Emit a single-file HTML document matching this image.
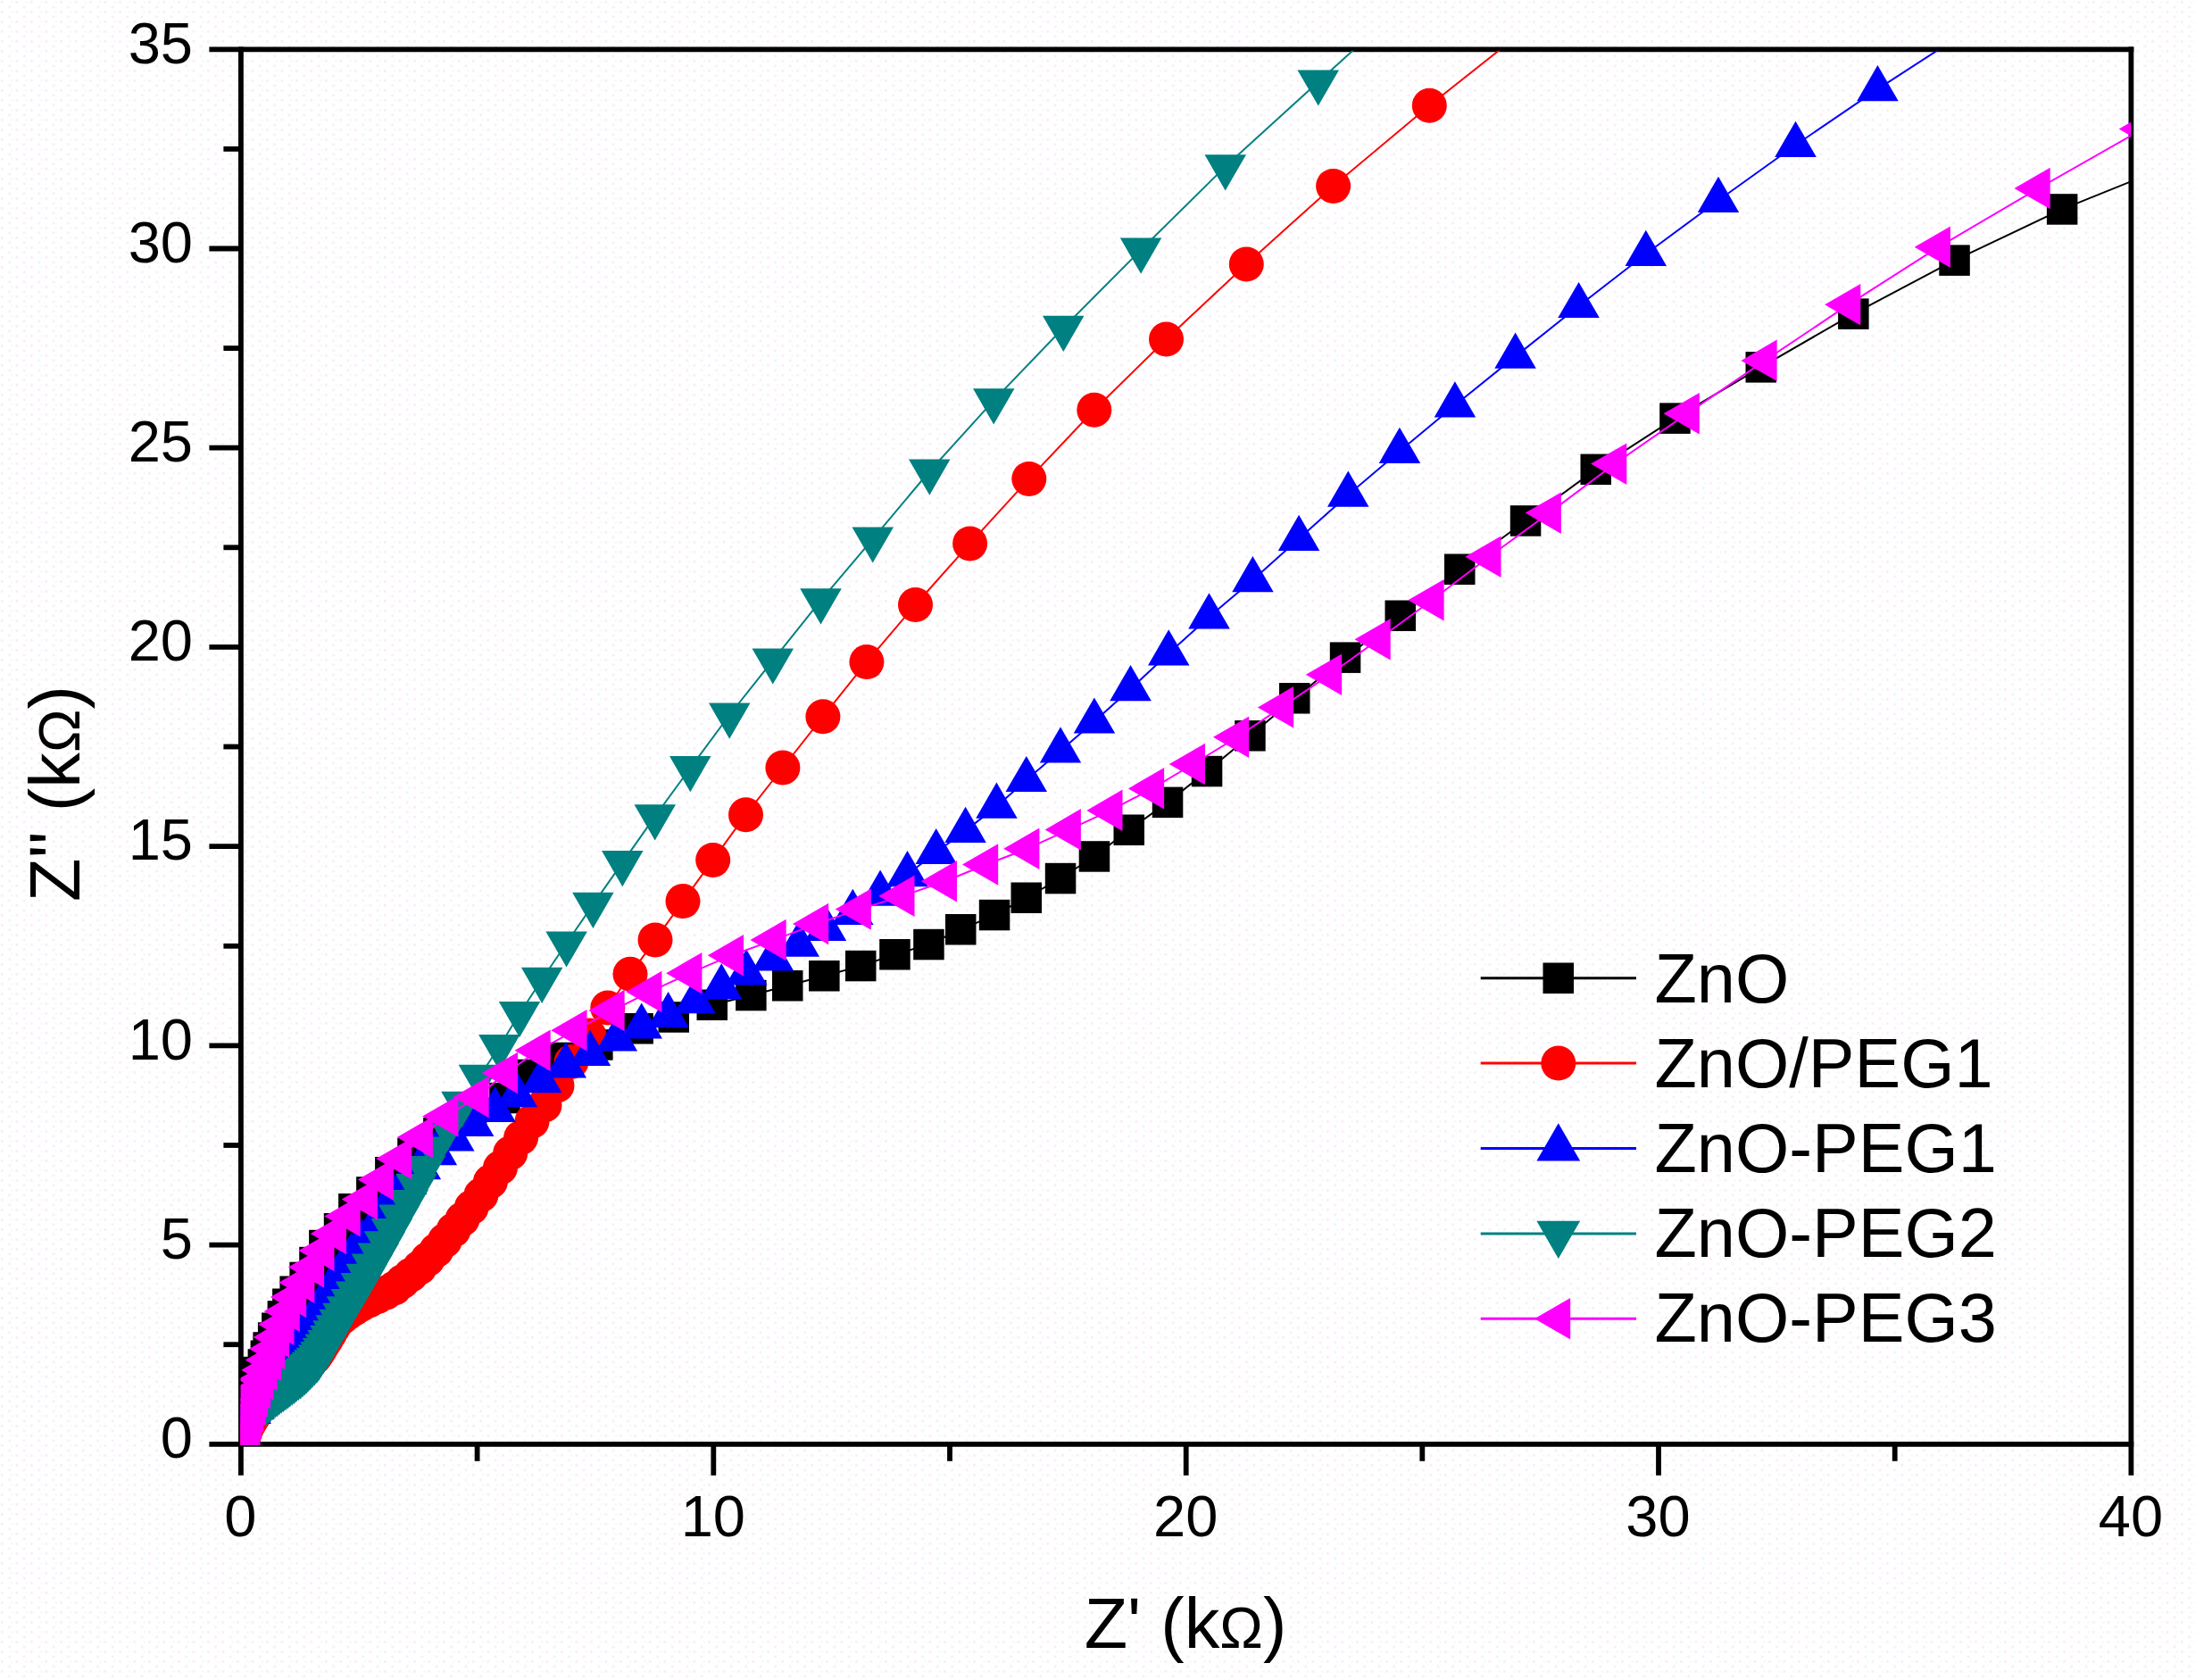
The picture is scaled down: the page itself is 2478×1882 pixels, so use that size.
<!DOCTYPE html>
<html lang="en">
<head>
<meta charset="utf-8">
<title>Nyquist plot</title>
<style>
html,body{margin:0;padding:0;background:#fff;}
body{width:2478px;height:1882px;overflow:hidden;}
svg{display:block;}
text{font-family:"Liberation Sans",sans-serif;fill:#000;}
.tk{font-size:65px;}
.ttl{font-size:79.3px;}
.lg{font-size:77.5px;}
.om{font-size:65px;}
</style>
</head>
<body>
<svg width="2478" height="1882" viewBox="0 0 2478 1882">
<defs><pattern id="dith" width="16.5" height="11" patternUnits="userSpaceOnUse">
<rect x="1" y="1" width="2.75" height="2.75" fill="#faedf8"/><rect x="9.25" y="6.5" width="2.75" height="2.75" fill="#faedf8"/>
<rect x="12" y="1" width="2.75" height="2.75" fill="#f5fbfb"/></pattern></defs>
<rect width="2478" height="1882" fill="#ffffff"/>
<rect width="2460" height="1882" fill="url(#dith)"/>
<defs><clipPath id="plotclip"><rect x="269.5" y="56.8" width="2117.8" height="1562.2"/></clipPath></defs>

<g stroke="#000" stroke-width="5.8" fill="none" stroke-linecap="butt">
<line x1="234.4" y1="55.3" x2="2390.3" y2="55.3"/>
<line x1="234.4" y1="1617.8" x2="2390.3" y2="1617.8"/>
<line x1="269.9" y1="52.4" x2="269.9" y2="1652.8"/>
<line x1="2387.4" y1="52.4" x2="2387.4" y2="1652.8"/>
<line x1="250.4" y1="1506.2" x2="269.9" y2="1506.2"/>
<line x1="234.4" y1="1394.6" x2="269.9" y2="1394.6"/>
<line x1="250.4" y1="1283.0" x2="269.9" y2="1283.0"/>
<line x1="234.4" y1="1171.4" x2="269.9" y2="1171.4"/>
<line x1="250.4" y1="1059.8" x2="269.9" y2="1059.8"/>
<line x1="234.4" y1="948.2" x2="269.9" y2="948.2"/>
<line x1="250.4" y1="836.5" x2="269.9" y2="836.5"/>
<line x1="234.4" y1="724.9" x2="269.9" y2="724.9"/>
<line x1="250.4" y1="613.3" x2="269.9" y2="613.3"/>
<line x1="234.4" y1="501.7" x2="269.9" y2="501.7"/>
<line x1="250.4" y1="390.1" x2="269.9" y2="390.1"/>
<line x1="234.4" y1="278.5" x2="269.9" y2="278.5"/>
<line x1="250.4" y1="166.9" x2="269.9" y2="166.9"/>
<line x1="534.6" y1="1617.8" x2="534.6" y2="1636.8"/>
<line x1="799.3" y1="1617.8" x2="799.3" y2="1652.8"/>
<line x1="1064.0" y1="1617.8" x2="1064.0" y2="1636.8"/>
<line x1="1328.7" y1="1617.8" x2="1328.7" y2="1652.8"/>
<line x1="1593.3" y1="1617.8" x2="1593.3" y2="1636.8"/>
<line x1="1858.0" y1="1617.8" x2="1858.0" y2="1652.8"/>
<line x1="2122.7" y1="1617.8" x2="2122.7" y2="1636.8"/>
</g>
<g clip-path="url(#plotclip)">
<g fill="#000000" stroke="none">
<path d="M2440.0,182.0 L2310.2,234.4 L2189.6,291.7 L2076.3,351.6 L1972.7,411.3 L1876.4,468.6 L1787.7,525.9 L1709.0,583.5 L1635.3,637.8 L1568.7,689.8 L1507.0,736.6 L1450.3,782.3 L1400.5,824.3 L1352.1,864.0 L1308.0,898.9 L1264.7,929.7 L1225.9,959.5 L1188.0,984.0 L1149.8,1005.7 L1114.1,1025.1 L1076.2,1041.3 L1040.4,1058.0 L1002.5,1069.3 L964.3,1082.1 L923.4,1093.2 L882.2,1104.2 L841.4,1115.0 L797.8,1125.7 L754.8,1139.4 L714.6,1152.3 L669.4,1170.4 L633.3,1184.9 L597.1,1203.9 L565.5,1230.1 L528.0,1250.0 L491.4,1269.3 L462.5,1292.0 L437.3,1313.3 L416.3,1335.5 L396.3,1354.3 L380.0,1376.2 L363.4,1395.1 L352.5,1414.0 L341.6,1430.9 L330.6,1446.8 L322.3,1460.7 L316.8,1474.5 L310.3,1487.8 L306.2,1498.6 L300.6,1509.5 L297.9,1518.8 L294.9,1528.4 L288.5,1537.0 L285.0,1546.0 L282.0,1555.0 L280.0,1564.0 L278.0,1573.0 L276.5,1582.0 L275.5,1590.0 L274.5,1598.0 L274.0,1605.0 L273.5,1611.0" fill="none" stroke="#000000" stroke-width="2.0" stroke-linejoin="round"/>
<rect x="2422.8" y="164.8" width="34.5" height="34.5"/>
<rect x="2292.9" y="217.2" width="34.5" height="34.5"/>
<rect x="2172.3" y="274.4" width="34.5" height="34.5"/>
<rect x="2059.1" y="334.4" width="34.5" height="34.5"/>
<rect x="1955.5" y="394.1" width="34.5" height="34.5"/>
<rect x="1859.2" y="451.4" width="34.5" height="34.5"/>
<rect x="1770.5" y="508.6" width="34.5" height="34.5"/>
<rect x="1691.8" y="566.2" width="34.5" height="34.5"/>
<rect x="1618.0" y="620.5" width="34.5" height="34.5"/>
<rect x="1551.5" y="672.5" width="34.5" height="34.5"/>
<rect x="1489.8" y="719.4" width="34.5" height="34.5"/>
<rect x="1433.0" y="765.0" width="34.5" height="34.5"/>
<rect x="1383.2" y="807.0" width="34.5" height="34.5"/>
<rect x="1334.8" y="846.8" width="34.5" height="34.5"/>
<rect x="1290.8" y="881.6" width="34.5" height="34.5"/>
<rect x="1247.5" y="912.5" width="34.5" height="34.5"/>
<rect x="1208.7" y="942.2" width="34.5" height="34.5"/>
<rect x="1170.8" y="966.8" width="34.5" height="34.5"/>
<rect x="1132.5" y="988.5" width="34.5" height="34.5"/>
<rect x="1096.8" y="1007.8" width="34.5" height="34.5"/>
<rect x="1059.0" y="1024.0" width="34.5" height="34.5"/>
<rect x="1023.2" y="1040.8" width="34.5" height="34.5"/>
<rect x="985.2" y="1052.0" width="34.5" height="34.5"/>
<rect x="947.0" y="1064.8" width="34.5" height="34.5"/>
<rect x="906.1" y="1076.0" width="34.5" height="34.5"/>
<rect x="865.0" y="1087.0" width="34.5" height="34.5"/>
<rect x="824.1" y="1097.8" width="34.5" height="34.5"/>
<rect x="780.5" y="1108.5" width="34.5" height="34.5"/>
<rect x="737.5" y="1122.2" width="34.5" height="34.5"/>
<rect x="697.4" y="1135.0" width="34.5" height="34.5"/>
<rect x="652.1" y="1153.2" width="34.5" height="34.5"/>
<rect x="616.0" y="1167.7" width="34.5" height="34.5"/>
<rect x="579.9" y="1186.7" width="34.5" height="34.5"/>
<rect x="548.2" y="1212.8" width="34.5" height="34.5"/>
<rect x="510.8" y="1232.8" width="34.5" height="34.5"/>
<rect x="474.1" y="1252.0" width="34.5" height="34.5"/>
<rect x="445.2" y="1274.8" width="34.5" height="34.5"/>
<rect x="420.1" y="1296.0" width="34.5" height="34.5"/>
<rect x="399.1" y="1318.2" width="34.5" height="34.5"/>
<rect x="379.1" y="1337.0" width="34.5" height="34.5"/>
<rect x="362.8" y="1359.0" width="34.5" height="34.5"/>
<rect x="346.1" y="1377.8" width="34.5" height="34.5"/>
<rect x="335.2" y="1396.8" width="34.5" height="34.5"/>
<rect x="324.4" y="1413.7" width="34.5" height="34.5"/>
<rect x="313.4" y="1429.5" width="34.5" height="34.5"/>
<rect x="305.1" y="1443.5" width="34.5" height="34.5"/>
<rect x="299.6" y="1457.2" width="34.5" height="34.5"/>
<rect x="293.1" y="1470.5" width="34.5" height="34.5"/>
<rect x="288.9" y="1481.3" width="34.5" height="34.5"/>
<rect x="283.4" y="1492.2" width="34.5" height="34.5"/>
<rect x="280.6" y="1501.5" width="34.5" height="34.5"/>
<rect x="277.6" y="1511.2" width="34.5" height="34.5"/>
<rect x="271.2" y="1519.8" width="34.5" height="34.5"/>
<rect x="267.8" y="1528.8" width="34.5" height="34.5"/>
<rect x="264.8" y="1537.8" width="34.5" height="34.5"/>
<rect x="262.8" y="1546.8" width="34.5" height="34.5"/>
<rect x="260.8" y="1555.8" width="34.5" height="34.5"/>
<rect x="259.2" y="1564.8" width="34.5" height="34.5"/>
<rect x="258.2" y="1572.8" width="34.5" height="34.5"/>
<rect x="257.2" y="1580.8" width="34.5" height="34.5"/>
<rect x="256.8" y="1587.8" width="34.5" height="34.5"/>
<rect x="256.2" y="1593.8" width="34.5" height="34.5"/>
</g>
<g fill="#ff0000" stroke="none">
<path d="M1717.3,26.3 L1601.3,118.3 L1493.6,208.4 L1396.3,295.9 L1306.5,380.0 L1225.8,459.3 L1152.8,536.4 L1086.6,608.9 L1025.5,677.5 L970.9,741.6 L921.9,802.8 L876.9,860.0 L835.5,912.7 L798.7,963.4 L765.0,1009.6 L734.0,1052.9 L706.0,1091.3 L680.8,1129.0 L660.0,1160.0 L640.0,1189.5 L624.0,1216.0 L610.0,1238.0 L596.0,1256.3 L583.6,1274.4 L571.7,1291.7 L560.4,1308.2 L549.4,1323.8 L538.9,1338.8 L528.2,1352.6 L518.0,1365.7 L508.0,1378.1 L498.3,1389.8 L488.8,1400.8 L479.1,1410.7 L469.9,1420.2 L460.2,1428.3 L450.8,1435.8 L441.8,1443.1 L432.1,1448.2 L422.6,1452.7 L413.5,1456.9 L404.9,1461.3 L397.1,1466.0 L389.7,1470.6 L383.2,1475.8 L377.1,1480.9 L373.1,1487.5 L369.4,1493.7 L365.8,1499.7 L362.3,1505.3 L359.0,1510.7 L355.8,1515.8 L352.5,1520.5 L348.6,1524.4 L344.8,1528.2 L341.3,1531.7 L337.9,1535.1 L334.3,1538.0 L330.8,1540.7 L327.5,1543.2 L324.4,1545.7 L321.4,1548.0 L318.5,1550.3 L315.7,1552.3 L313.0,1554.3 L310.4,1556.2 L308.0,1558.0 L305.6,1559.7 L303.2,1561.6 L300.8,1563.4 L298.5,1565.3 L296.2,1567.2 L294.0,1569.3 L292.5,1571.8 L291.0,1574.4 L289.4,1577.0 L287.9,1579.5 L286.3,1582.1 L284.8,1584.7 L283.3,1587.3 L281.7,1589.9 L280.2,1592.5 L278.7,1595.0 L277.2,1597.6 L276.0,1600.4 L274.9,1603.2 L273.8,1606.0 L272.7,1608.8 L271.8,1611.6 L271.0,1614.0" fill="none" stroke="#ff0000" stroke-width="2.0" stroke-linejoin="round"/>
<circle cx="1717.3" cy="26.3" r="19.5"/>
<circle cx="1601.3" cy="118.3" r="19.5"/>
<circle cx="1493.6" cy="208.4" r="19.5"/>
<circle cx="1396.3" cy="295.9" r="19.5"/>
<circle cx="1306.5" cy="380.0" r="19.5"/>
<circle cx="1225.8" cy="459.3" r="19.5"/>
<circle cx="1152.8" cy="536.4" r="19.5"/>
<circle cx="1086.6" cy="608.9" r="19.5"/>
<circle cx="1025.5" cy="677.5" r="19.5"/>
<circle cx="970.9" cy="741.6" r="19.5"/>
<circle cx="921.9" cy="802.8" r="19.5"/>
<circle cx="876.9" cy="860.0" r="19.5"/>
<circle cx="835.5" cy="912.7" r="19.5"/>
<circle cx="798.7" cy="963.4" r="19.5"/>
<circle cx="765.0" cy="1009.6" r="19.5"/>
<circle cx="734.0" cy="1052.9" r="19.5"/>
<circle cx="706.0" cy="1091.3" r="19.5"/>
<circle cx="680.8" cy="1129.0" r="19.5"/>
<circle cx="660.0" cy="1160.0" r="19.5"/>
<circle cx="640.0" cy="1189.5" r="19.5"/>
<circle cx="624.0" cy="1216.0" r="19.5"/>
<circle cx="610.0" cy="1238.0" r="19.5"/>
<circle cx="596.0" cy="1256.3" r="19.5"/>
<circle cx="583.6" cy="1274.4" r="19.5"/>
<circle cx="571.7" cy="1291.7" r="19.5"/>
<circle cx="560.4" cy="1308.2" r="19.5"/>
<circle cx="549.4" cy="1323.8" r="19.5"/>
<circle cx="538.9" cy="1338.8" r="19.5"/>
<circle cx="528.2" cy="1352.6" r="19.5"/>
<circle cx="518.0" cy="1365.7" r="19.5"/>
<circle cx="508.0" cy="1378.1" r="19.5"/>
<circle cx="498.3" cy="1389.8" r="19.5"/>
<circle cx="488.8" cy="1400.8" r="19.5"/>
<circle cx="479.1" cy="1410.7" r="19.5"/>
<circle cx="469.9" cy="1420.2" r="19.5"/>
<circle cx="460.2" cy="1428.3" r="19.5"/>
<circle cx="450.8" cy="1435.8" r="19.5"/>
<circle cx="441.8" cy="1443.1" r="19.5"/>
<circle cx="432.1" cy="1448.2" r="19.5"/>
<circle cx="422.6" cy="1452.7" r="19.5"/>
<circle cx="413.5" cy="1456.9" r="19.5"/>
<circle cx="404.9" cy="1461.3" r="19.5"/>
<circle cx="397.1" cy="1466.0" r="19.5"/>
<circle cx="389.7" cy="1470.6" r="19.5"/>
<circle cx="383.2" cy="1475.8" r="19.5"/>
<circle cx="377.1" cy="1480.9" r="19.5"/>
<circle cx="373.1" cy="1487.5" r="19.5"/>
<circle cx="369.4" cy="1493.7" r="19.5"/>
<circle cx="365.8" cy="1499.7" r="19.5"/>
<circle cx="362.3" cy="1505.3" r="19.5"/>
<circle cx="359.0" cy="1510.7" r="19.5"/>
<circle cx="355.8" cy="1515.8" r="19.5"/>
<circle cx="352.5" cy="1520.5" r="19.5"/>
<circle cx="348.6" cy="1524.4" r="19.5"/>
<circle cx="344.8" cy="1528.2" r="19.5"/>
<circle cx="341.3" cy="1531.7" r="19.5"/>
<circle cx="337.9" cy="1535.1" r="19.5"/>
<circle cx="334.3" cy="1538.0" r="19.5"/>
<circle cx="330.8" cy="1540.7" r="19.5"/>
<circle cx="327.5" cy="1543.2" r="19.5"/>
<circle cx="324.4" cy="1545.7" r="19.5"/>
<circle cx="321.4" cy="1548.0" r="19.5"/>
<circle cx="318.5" cy="1550.3" r="19.5"/>
<circle cx="315.7" cy="1552.3" r="19.5"/>
<circle cx="313.0" cy="1554.3" r="19.5"/>
<circle cx="310.4" cy="1556.2" r="19.5"/>
<circle cx="308.0" cy="1558.0" r="19.5"/>
<circle cx="305.6" cy="1559.7" r="19.5"/>
<circle cx="303.2" cy="1561.6" r="19.5"/>
<circle cx="300.8" cy="1563.4" r="19.5"/>
<circle cx="298.5" cy="1565.3" r="19.5"/>
<circle cx="296.2" cy="1567.2" r="19.5"/>
<circle cx="294.0" cy="1569.3" r="19.5"/>
<circle cx="292.5" cy="1571.8" r="19.5"/>
<circle cx="291.0" cy="1574.4" r="19.5"/>
<circle cx="289.4" cy="1577.0" r="19.5"/>
<circle cx="287.9" cy="1579.5" r="19.5"/>
<circle cx="286.3" cy="1582.1" r="19.5"/>
<circle cx="284.8" cy="1584.7" r="19.5"/>
<circle cx="283.3" cy="1587.3" r="19.5"/>
<circle cx="281.7" cy="1589.9" r="19.5"/>
<circle cx="280.2" cy="1592.5" r="19.5"/>
<circle cx="278.7" cy="1595.0" r="19.5"/>
<circle cx="277.2" cy="1597.6" r="19.5"/>
<circle cx="276.0" cy="1600.4" r="19.5"/>
<circle cx="274.9" cy="1603.2" r="19.5"/>
<circle cx="273.8" cy="1606.0" r="19.5"/>
<circle cx="272.7" cy="1608.8" r="19.5"/>
<circle cx="271.8" cy="1611.6" r="19.5"/>
<circle cx="271.0" cy="1614.0" r="19.5"/>
</g>
<g fill="#0000ff" stroke="none">
<path d="M2200.9,36.7 L2103.4,99.8 L2011.5,162.5 L1925.0,224.5 L1843.8,284.5 L1768.6,342.7 L1697.6,399.4 L1629.9,454.0 L1567.9,505.5 L1510.3,554.3 L1455.1,603.5 L1403.4,649.8 L1354.5,691.0 L1309.2,732.1 L1266.5,771.8 L1225.9,808.2 L1188.0,841.0 L1149.8,873.7 L1116.4,903.4 L1081.6,930.6 L1048.7,954.7 L1016.5,979.8 L986.1,1001.3 L955.3,1022.5 L925.0,1040.5 L894.8,1058.3 L865.9,1074.2 L836.1,1090.1 L808.2,1106.0 L778.4,1121.9 L748.6,1137.9 L718.7,1150.2 L690.9,1164.1 L661.0,1180.6 L633.8,1194.0 L606.3,1210.9 L578.9,1226.8 L554.6,1243.7 L530.1,1259.6 L508.3,1276.1 L488.8,1291.7 L470.9,1307.8 L455.0,1324.6 L441.2,1342.0 L428.8,1359.4 L417.7,1376.8 L405.7,1392.5 L393.7,1407.3 L383.2,1422.3 L374.0,1437.4 L365.5,1452.1 L357.4,1466.2 L349.0,1479.5 L340.9,1492.2 L334.0,1505.0 L327.7,1517.5 L321.4,1529.4 L314.0,1540.0 L306.5,1549.9 L299.0,1559.2 L291.5,1568.0 L284.5,1576.5 L280.6,1581.5" fill="none" stroke="#0000ff" stroke-width="2.0" stroke-linejoin="round"/>
<polygon points="2200.9,9.9 2177.7,50.1 2224.2,50.1"/>
<polygon points="2103.4,73.0 2080.2,113.2 2126.7,113.2"/>
<polygon points="2011.5,135.7 1988.2,175.9 2034.8,175.9"/>
<polygon points="1925.0,197.7 1901.8,237.9 1948.2,237.9"/>
<polygon points="1843.8,257.7 1820.5,297.9 1867.0,297.9"/>
<polygon points="1768.6,315.9 1745.3,356.1 1791.8,356.1"/>
<polygon points="1697.6,372.6 1674.3,412.8 1720.8,412.8"/>
<polygon points="1629.9,427.2 1606.7,467.4 1653.2,467.4"/>
<polygon points="1567.9,478.7 1544.7,518.9 1591.2,518.9"/>
<polygon points="1510.3,527.5 1487.0,567.7 1533.5,567.7"/>
<polygon points="1455.1,576.7 1431.8,616.9 1478.3,616.9"/>
<polygon points="1403.4,623.0 1380.2,663.2 1426.7,663.2"/>
<polygon points="1354.5,664.2 1331.2,704.4 1377.8,704.4"/>
<polygon points="1309.2,705.3 1286.0,745.5 1332.5,745.5"/>
<polygon points="1266.5,745.0 1243.2,785.2 1289.8,785.2"/>
<polygon points="1225.9,781.4 1202.7,821.6 1249.2,821.6"/>
<polygon points="1188.0,814.2 1164.8,854.4 1211.2,854.4"/>
<polygon points="1149.8,846.9 1126.5,887.1 1173.0,887.1"/>
<polygon points="1116.4,876.6 1093.2,916.8 1139.7,916.8"/>
<polygon points="1081.6,903.8 1058.3,944.0 1104.8,944.0"/>
<polygon points="1048.7,927.9 1025.5,968.1 1072.0,968.1"/>
<polygon points="1016.5,953.0 993.2,993.2 1039.8,993.2"/>
<polygon points="986.1,974.5 962.9,1014.7 1009.4,1014.7"/>
<polygon points="955.3,995.7 932.0,1035.9 978.5,1035.9"/>
<polygon points="925.0,1013.7 901.8,1053.9 948.2,1053.9"/>
<polygon points="894.8,1031.5 871.5,1071.7 918.0,1071.7"/>
<polygon points="865.9,1047.4 842.6,1087.6 889.1,1087.6"/>
<polygon points="836.1,1063.3 812.9,1103.5 859.4,1103.5"/>
<polygon points="808.2,1079.2 785.0,1119.4 831.5,1119.4"/>
<polygon points="778.4,1095.1 755.1,1135.3 801.6,1135.3"/>
<polygon points="748.6,1111.1 725.4,1151.3 771.9,1151.3"/>
<polygon points="718.7,1123.4 695.5,1163.6 742.0,1163.6"/>
<polygon points="690.9,1137.3 667.6,1177.5 714.1,1177.5"/>
<polygon points="661.0,1153.8 637.8,1194.0 684.2,1194.0"/>
<polygon points="633.8,1167.2 610.5,1207.4 657.0,1207.4"/>
<polygon points="606.3,1184.1 583.0,1224.3 629.5,1224.3"/>
<polygon points="578.9,1200.0 555.6,1240.2 602.1,1240.2"/>
<polygon points="554.6,1216.9 531.4,1257.1 577.9,1257.1"/>
<polygon points="530.1,1232.8 506.9,1273.0 553.4,1273.0"/>
<polygon points="508.3,1249.3 485.1,1289.5 531.5,1289.5"/>
<polygon points="488.8,1264.9 465.6,1305.2 512.1,1305.2"/>
<polygon points="470.9,1280.9 447.6,1321.2 494.1,1321.2"/>
<polygon points="455.0,1297.7 431.8,1338.0 478.3,1338.0"/>
<polygon points="441.2,1315.1 417.9,1355.4 464.4,1355.4"/>
<polygon points="428.8,1332.6 405.5,1372.9 452.0,1372.9"/>
<polygon points="417.7,1349.9 394.4,1390.2 440.9,1390.2"/>
<polygon points="405.7,1365.7 382.5,1406.0 429.0,1406.0"/>
<polygon points="393.7,1380.4 370.4,1420.7 416.9,1420.7"/>
<polygon points="383.2,1395.5 359.9,1435.7 406.4,1435.7"/>
<polygon points="374.0,1410.5 350.7,1450.8 397.2,1450.8"/>
<polygon points="365.5,1425.2 342.3,1465.5 388.8,1465.5"/>
<polygon points="357.4,1439.4 334.1,1479.6 380.6,1479.6"/>
<polygon points="349.0,1452.7 325.8,1492.9 372.3,1492.9"/>
<polygon points="340.9,1465.4 317.6,1505.7 364.1,1505.7"/>
<polygon points="334.0,1478.2 310.7,1518.5 357.2,1518.5"/>
<polygon points="327.7,1490.7 304.5,1531.0 351.0,1531.0"/>
<polygon points="321.4,1502.5 298.1,1542.8 344.6,1542.8"/>
<polygon points="314.0,1513.2 290.8,1553.4 337.3,1553.4"/>
<polygon points="306.5,1523.1 283.2,1563.3 329.7,1563.3"/>
<polygon points="299.0,1532.4 275.7,1572.6 322.2,1572.6"/>
<polygon points="291.5,1541.1 268.2,1581.4 314.7,1581.4"/>
<polygon points="284.5,1549.7 261.2,1590.0 307.7,1590.0"/>
<polygon points="280.6,1554.7 257.4,1594.9 303.9,1594.9"/>
</g>
<g fill="#008080" stroke="none">
<path d="M1586.8,-8.2 L1476.8,91.8 L1372.7,186.6 L1278.1,280.0 L1191.3,367.2 L1113.2,448.6 L1041.3,528.0 L977.7,603.8 L919.5,672.7 L865.8,739.8 L817.2,801.0 L773.3,860.4 L733.7,914.7 L697.3,966.4 L664.4,1013.2 L634.6,1056.8 L607.1,1097.2 L582.0,1135.5 L559.4,1172.5 L536.9,1206.2 L517.5,1236.1 L501.3,1262.6 L487.0,1287.0 L475.9,1308.3 L466.4,1328.3 L456.7,1346.4 L447.3,1362.9 L438.9,1378.4 L431.1,1392.6 L423.8,1405.8 L417.0,1417.9 L410.6,1429.1 L404.7,1439.4 L399.1,1448.9 L393.8,1457.6 L388.9,1465.6 L384.5,1473.1 L380.5,1480.1 L376.8,1486.6 L373.5,1492.6 L370.4,1498.2 L367.6,1503.4 L364.8,1508.1 L362.1,1512.3 L359.6,1516.3 L357.3,1519.9 L354.9,1523.1 L352.3,1525.7 L349.9,1528.1 L347.6,1530.4 L345.5,1532.5 L343.4,1534.6 L341.3,1536.7 L339.0,1538.7 L336.7,1540.6 L334.3,1542.4 L331.9,1544.3 L329.6,1546.1 L327.2,1547.9 L324.8,1549.8 L322.5,1551.6 L320.1,1553.4 L317.6,1555.2 L315.2,1557.0 L312.8,1558.7 L310.4,1560.5 L308.0,1562.3 L305.6,1564.1 L303.3,1566.0 L300.9,1567.9 L298.6,1569.7 L297.0,1571.0" fill="none" stroke="#008080" stroke-width="2.0" stroke-linejoin="round"/>
<polygon points="1586.8,18.6 1563.5,-21.6 1610.0,-21.6"/>
<polygon points="1476.8,118.6 1453.5,78.4 1500.0,78.4"/>
<polygon points="1372.7,213.4 1349.5,173.2 1396.0,173.2"/>
<polygon points="1278.1,306.8 1254.8,266.6 1301.3,266.6"/>
<polygon points="1191.3,394.0 1168.0,353.8 1214.5,353.8"/>
<polygon points="1113.2,475.4 1090.0,435.2 1136.5,435.2"/>
<polygon points="1041.3,554.8 1018.0,514.6 1064.5,514.6"/>
<polygon points="977.7,630.6 954.5,590.4 1001.0,590.4"/>
<polygon points="919.5,699.5 896.2,659.3 942.8,659.3"/>
<polygon points="865.8,766.6 842.5,726.4 889.0,726.4"/>
<polygon points="817.2,827.8 794.0,787.6 840.5,787.6"/>
<polygon points="773.3,887.2 750.0,847.0 796.5,847.0"/>
<polygon points="733.7,941.5 710.5,901.3 757.0,901.3"/>
<polygon points="697.3,993.2 674.0,953.0 720.5,953.0"/>
<polygon points="664.4,1040.0 641.1,999.8 687.6,999.8"/>
<polygon points="634.6,1083.6 611.4,1043.4 657.9,1043.4"/>
<polygon points="607.1,1124.0 583.9,1083.8 630.4,1083.8"/>
<polygon points="582.0,1162.3 558.8,1122.1 605.2,1122.1"/>
<polygon points="559.4,1199.3 536.1,1159.1 582.6,1159.1"/>
<polygon points="536.9,1233.0 513.6,1192.8 560.1,1192.8"/>
<polygon points="517.5,1262.9 494.2,1222.7 540.8,1222.7"/>
<polygon points="501.3,1289.4 478.1,1249.2 524.5,1249.2"/>
<polygon points="487.0,1313.8 463.8,1273.6 510.2,1273.6"/>
<polygon points="475.9,1335.1 452.6,1294.9 499.1,1294.9"/>
<polygon points="466.4,1355.2 443.1,1314.9 489.6,1314.9"/>
<polygon points="456.7,1373.3 433.4,1333.0 479.9,1333.0"/>
<polygon points="447.3,1389.8 424.0,1349.5 470.5,1349.5"/>
<polygon points="438.9,1405.2 415.6,1364.9 462.1,1364.9"/>
<polygon points="431.1,1419.5 407.8,1379.2 454.3,1379.2"/>
<polygon points="423.8,1432.6 400.6,1392.4 447.1,1392.4"/>
<polygon points="417.0,1444.7 393.7,1404.5 440.2,1404.5"/>
<polygon points="410.6,1455.9 387.4,1415.7 433.9,1415.7"/>
<polygon points="404.7,1466.3 381.5,1426.0 428.0,1426.0"/>
<polygon points="399.1,1475.7 375.8,1435.4 422.3,1435.4"/>
<polygon points="393.8,1484.4 370.6,1444.1 417.1,1444.1"/>
<polygon points="388.9,1492.5 365.7,1452.2 412.2,1452.2"/>
<polygon points="384.5,1500.0 361.2,1459.7 407.7,1459.7"/>
<polygon points="380.5,1507.0 357.3,1466.7 403.8,1466.7"/>
<polygon points="376.8,1513.4 353.6,1473.2 400.1,1473.2"/>
<polygon points="373.5,1519.5 350.2,1479.2 396.7,1479.2"/>
<polygon points="370.4,1525.0 347.1,1484.8 393.6,1484.8"/>
<polygon points="367.6,1530.2 344.3,1489.9 390.8,1489.9"/>
<polygon points="364.8,1534.9 341.5,1494.6 388.0,1494.6"/>
<polygon points="362.1,1539.2 338.8,1498.9 385.3,1498.9"/>
<polygon points="359.6,1543.1 336.3,1502.9 382.8,1502.9"/>
<polygon points="357.3,1546.8 334.0,1506.5 380.5,1506.5"/>
<polygon points="354.9,1549.9 331.6,1509.7 378.1,1509.7"/>
<polygon points="352.3,1552.6 329.0,1512.3 375.5,1512.3"/>
<polygon points="349.9,1555.0 326.6,1514.7 373.1,1514.7"/>
<polygon points="347.6,1557.2 324.4,1516.9 370.9,1516.9"/>
<polygon points="345.5,1559.3 322.3,1519.1 368.8,1519.1"/>
<polygon points="343.4,1561.5 320.1,1521.2 366.6,1521.2"/>
<polygon points="341.3,1563.6 318.0,1523.3 364.5,1523.3"/>
<polygon points="339.0,1565.6 315.8,1525.3 362.3,1525.3"/>
<polygon points="336.7,1567.4 313.4,1527.2 359.9,1527.2"/>
<polygon points="334.3,1569.3 311.1,1529.0 357.6,1529.0"/>
<polygon points="331.9,1571.1 308.7,1530.8 355.2,1530.8"/>
<polygon points="329.6,1573.0 306.3,1532.7 352.8,1532.7"/>
<polygon points="327.2,1574.8 304.0,1534.5 350.5,1534.5"/>
<polygon points="324.8,1576.6 301.6,1536.4 348.1,1536.4"/>
<polygon points="322.5,1578.5 299.2,1538.2 345.7,1538.2"/>
<polygon points="320.1,1580.3 296.8,1540.0 343.3,1540.0"/>
<polygon points="317.6,1582.0 294.4,1541.8 340.9,1541.8"/>
<polygon points="315.2,1583.8 292.0,1543.5 338.5,1543.5"/>
<polygon points="312.8,1585.6 289.6,1545.3 336.1,1545.3"/>
<polygon points="310.4,1587.4 287.1,1547.1 333.6,1547.1"/>
<polygon points="308.0,1589.1 284.7,1548.9 331.2,1548.9"/>
<polygon points="305.6,1591.0 282.3,1550.7 328.8,1550.7"/>
<polygon points="303.3,1592.8 280.0,1552.6 326.5,1552.6"/>
<polygon points="300.9,1594.7 277.7,1554.4 324.2,1554.4"/>
<polygon points="298.6,1596.6 275.3,1556.3 321.8,1556.3"/>
<polygon points="297.0,1597.8 273.8,1557.6 320.2,1557.6"/>
</g>
<g fill="#ff00ff" stroke="none">
<path d="M2400.5,144.6 L2283.3,211.1 L2171.5,276.8 L2070.9,341.2 L1977.2,403.9 L1890.4,463.2 L1808.9,519.6 L1735.5,574.6 L1668.1,623.8 L1604.2,672.2 L1544.3,716.3 L1489.7,755.7 L1435.7,792.4 L1385.8,825.8 L1336.6,856.0 L1290.7,883.4 L1244.1,907.9 L1197.5,929.4 L1151.0,950.7 L1104.8,968.5 L1058.6,987.3 L1011.1,1003.7 L962.5,1018.6 L914.8,1035.0 L867.3,1052.9 L819.6,1070.2 L773.0,1090.2 L728.0,1111.1 L686.2,1132.0 L644.1,1154.3 L603.3,1176.7 L566.6,1202.1 L534.3,1229.0 L500.0,1250.5 L471.5,1274.0 L448.0,1298.0 L427.5,1321.5 L409.5,1343.5 L390.3,1362.4 L374.6,1382.0 L361.1,1401.1 L349.6,1419.5 L339.0,1436.7 L329.8,1453.0 L322.4,1468.9 L316.1,1483.8 L310.5,1497.9 L305.9,1511.1 L301.6,1523.5 L297.1,1534.8 L293.1,1545.3 L289.7,1555.3 L286.8,1564.6 L284.1,1573.3 L281.8,1581.4 L279.8,1589.0 L278.1,1596.1 L276.3,1602.7 L274.8,1608.8 L274.0,1612.0" fill="none" stroke="#ff00ff" stroke-width="2.0" stroke-linejoin="round"/>
<polygon points="2373.7,144.6 2413.9,121.3 2413.9,167.8"/>
<polygon points="2256.5,211.1 2296.7,187.8 2296.7,234.3"/>
<polygon points="2144.7,276.8 2184.9,253.6 2184.9,300.1"/>
<polygon points="2044.1,341.2 2084.3,317.9 2084.3,364.4"/>
<polygon points="1950.4,403.9 1990.6,380.6 1990.6,427.1"/>
<polygon points="1863.6,463.2 1903.8,439.9 1903.8,486.4"/>
<polygon points="1782.1,519.6 1822.3,496.4 1822.3,542.9"/>
<polygon points="1708.7,574.6 1748.9,551.4 1748.9,597.9"/>
<polygon points="1641.3,623.8 1681.5,600.5 1681.5,647.0"/>
<polygon points="1577.4,672.2 1617.6,649.0 1617.6,695.5"/>
<polygon points="1517.5,716.3 1557.7,693.0 1557.7,739.5"/>
<polygon points="1462.9,755.7 1503.1,732.5 1503.1,779.0"/>
<polygon points="1408.9,792.4 1449.1,769.1 1449.1,815.6"/>
<polygon points="1359.0,825.8 1399.2,802.5 1399.2,849.0"/>
<polygon points="1309.8,856.0 1350.0,832.8 1350.0,879.2"/>
<polygon points="1263.9,883.4 1304.1,860.1 1304.1,906.6"/>
<polygon points="1217.3,907.9 1257.5,884.6 1257.5,931.1"/>
<polygon points="1170.7,929.4 1210.9,906.1 1210.9,952.6"/>
<polygon points="1124.2,950.7 1164.4,927.5 1164.4,974.0"/>
<polygon points="1078.0,968.5 1118.2,945.2 1118.2,991.8"/>
<polygon points="1031.8,987.3 1072.0,964.0 1072.0,1010.5"/>
<polygon points="984.3,1003.7 1024.5,980.5 1024.5,1027.0"/>
<polygon points="935.7,1018.6 975.9,995.4 975.9,1041.8"/>
<polygon points="888.0,1035.0 928.2,1011.8 928.2,1058.2"/>
<polygon points="840.5,1052.9 880.7,1029.7 880.7,1076.2"/>
<polygon points="792.8,1070.2 833.0,1047.0 833.0,1093.5"/>
<polygon points="746.2,1090.2 786.4,1067.0 786.4,1113.5"/>
<polygon points="701.2,1111.1 741.4,1087.8 741.4,1134.3"/>
<polygon points="659.4,1132.0 699.6,1108.8 699.6,1155.2"/>
<polygon points="617.3,1154.3 657.5,1131.0 657.5,1177.5"/>
<polygon points="576.5,1176.7 616.7,1153.5 616.7,1200.0"/>
<polygon points="539.8,1202.1 580.0,1178.8 580.0,1225.3"/>
<polygon points="507.5,1229.0 547.7,1205.8 547.7,1252.2"/>
<polygon points="473.2,1250.5 513.4,1227.2 513.4,1273.8"/>
<polygon points="444.7,1274.0 484.9,1250.8 484.9,1297.2"/>
<polygon points="421.2,1298.0 461.4,1274.8 461.4,1321.2"/>
<polygon points="400.7,1321.5 440.9,1298.2 440.9,1344.8"/>
<polygon points="382.7,1343.5 422.9,1320.2 422.9,1366.8"/>
<polygon points="363.4,1362.4 403.7,1339.1 403.7,1385.6"/>
<polygon points="347.7,1382.0 388.0,1358.7 388.0,1405.2"/>
<polygon points="334.3,1401.1 374.5,1377.8 374.5,1424.3"/>
<polygon points="322.8,1419.5 363.1,1396.3 363.1,1442.8"/>
<polygon points="312.2,1436.7 352.4,1413.4 352.4,1459.9"/>
<polygon points="302.9,1453.0 343.2,1429.8 343.2,1476.3"/>
<polygon points="295.6,1468.9 335.8,1445.6 335.8,1492.1"/>
<polygon points="289.2,1483.8 329.5,1460.6 329.5,1507.1"/>
<polygon points="283.7,1497.9 324.0,1474.6 324.0,1521.1"/>
<polygon points="279.0,1511.1 319.3,1487.9 319.3,1534.4"/>
<polygon points="274.8,1523.5 315.0,1500.2 315.0,1546.7"/>
<polygon points="270.2,1534.8 310.5,1511.5 310.5,1558.0"/>
<polygon points="266.3,1545.3 306.5,1522.1 306.5,1568.6"/>
<polygon points="262.9,1555.3 303.2,1532.0 303.2,1578.5"/>
<polygon points="259.9,1564.6 300.2,1541.4 300.2,1587.9"/>
<polygon points="257.3,1573.3 297.5,1550.0 297.5,1596.5"/>
<polygon points="254.9,1581.4 295.2,1558.2 295.2,1604.7"/>
<polygon points="253.0,1589.0 293.3,1565.8 293.3,1612.3"/>
<polygon points="251.3,1596.1 291.5,1572.9 291.5,1619.4"/>
<polygon points="249.5,1602.7 289.8,1579.5 289.8,1626.0"/>
<polygon points="247.9,1608.8 288.2,1585.6 288.2,1632.1"/>
<polygon points="247.2,1612.0 287.4,1588.8 287.4,1635.2"/>
</g>
</g>
<text class="tk" x="216" y="1633.0" text-anchor="end">0</text>
<text class="tk" x="216" y="1409.8" text-anchor="end">5</text>
<text class="tk" x="216" y="1186.6" text-anchor="end">10</text>
<text class="tk" x="216" y="963.4" text-anchor="end">15</text>
<text class="tk" x="216" y="740.1" text-anchor="end">20</text>
<text class="tk" x="216" y="516.9" text-anchor="end">25</text>
<text class="tk" x="216" y="293.7" text-anchor="end">30</text>
<text class="tk" x="216" y="70.5" text-anchor="end">35</text>
<text class="tk" x="269.4" y="1721" text-anchor="middle">0</text>
<text class="tk" x="798.8" y="1721" text-anchor="middle">10</text>
<text class="tk" x="1328.2" y="1721" text-anchor="middle">20</text>
<text class="tk" x="1857.5" y="1721" text-anchor="middle">30</text>
<text class="tk" x="2386.9" y="1721" text-anchor="middle">40</text>
<text class="ttl" x="1328" y="1845.5" text-anchor="middle">Z' (k<tspan class="om">Ω</tspan>)</text>
<text class="ttl" transform="translate(89.3,889) rotate(-90)" text-anchor="middle">Z'' (k<tspan class="om">Ω</tspan>)</text>
<g fill="#000000"><line x1="1658.7" y1="1095.7" x2="1833" y2="1095.7" stroke="#000000" stroke-width="3"/><rect x="1728.5" y="1078.5" width="34.5" height="34.5"/></g>
<text class="lg" x="1853.5" y="1123.0">ZnO</text>
<g fill="#ff0000"><line x1="1658.7" y1="1191.1" x2="1833" y2="1191.1" stroke="#ff0000" stroke-width="3"/><circle cx="1745.8" cy="1191.1" r="19.5"/></g>
<text class="lg" x="1853.5" y="1218.1">ZnO/PEG1</text>
<g fill="#0000ff"><line x1="1658.7" y1="1286.5" x2="1833" y2="1286.5" stroke="#0000ff" stroke-width="3"/><polygon points="1745.8,1258.3 1721.4,1300.6 1770.2,1300.6"/></g>
<text class="lg" x="1853.5" y="1313.2">ZnO-PEG1</text>
<g fill="#008080"><line x1="1658.7" y1="1381.9" x2="1833" y2="1381.9" stroke="#008080" stroke-width="3"/><polygon points="1745.8,1410.1 1721.4,1367.8 1770.2,1367.8"/></g>
<text class="lg" x="1853.5" y="1408.3">ZnO-PEG2</text>
<g fill="#ff00ff"><line x1="1658.7" y1="1477.3" x2="1833" y2="1477.3" stroke="#ff00ff" stroke-width="3"/><polygon points="1719.0,1477.3 1759.2,1454.1 1759.2,1500.6"/></g>
<text class="lg" x="1853.5" y="1503.4">ZnO-PEG3</text>
</svg>
</body>
</html>
